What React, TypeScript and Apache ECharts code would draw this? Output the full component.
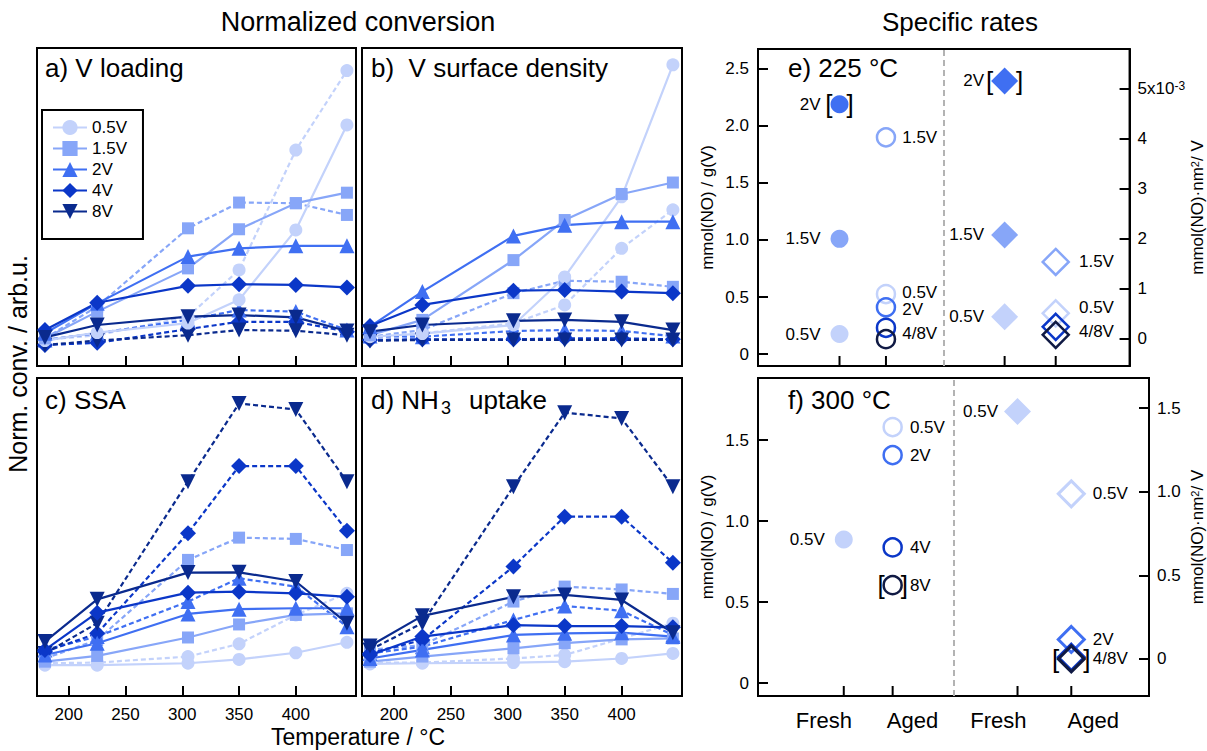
import React, { useEffect, useRef } from 'react';
import * as echarts from 'echarts';

// ---------- data ----------
const temperatures = [179, 225, 305, 350, 400, 445];
const tempTicks = [200, 250, 300, 350, 400];
const loadings = ['0.5V', '1.5V', '2V', '4V', '8V'];

// a) V loading (normalized, arb. units 0..100)
const vLoadingFresh = [
  [8.0, 10.5, 13.5, 20.8, 42.8, 75.8],
  [8.7, 17.1, 30.7, 43.0, 51.2, 54.5],
  [10.3, 19.7, 34.4, 37.0, 37.8, 37.8],
  [11.3, 19.9, 25.2, 25.7, 25.5, 24.7],
  [9.0, 12.9, 15.5, 16.0, 15.3, 11.0],
];
const vLoadingAged = [
  [8.2, 9.7, 15.5, 30.2, 67.9, 92.9],
  [8.7, 18.7, 43.3, 51.4, 51.2, 47.5],
  [8.2, 10.3, 14.5, 17.6, 17.1, 11.3],
  [6.6, 7.3, 11.6, 13.9, 13.9, 10.8],
  [6.6, 8.0, 9.7, 11.3, 11.1, 9.7],
];
// b) V surface density
const vDensityFresh = [
  [9.2, 10.2, 12.9, 28.0, 53.2, 94.7],
  [9.7, 14.5, 33.3, 45.9, 54.1, 57.7],
  [12.4, 23.4, 40.9, 44.3, 45.4, 45.4],
  [12.6, 19.2, 23.7, 23.9, 23.4, 22.9],
  [10.8, 12.9, 14.2, 14.5, 13.9, 11.3],
];
const vDensityAged = [
  [8.7, 10.3, 13.4, 19.2, 37.0, 49.1],
  [9.2, 11.3, 22.9, 26.8, 26.5, 24.9],
  [9.4, 9.2, 11.0, 11.3, 11.0, 9.4],
  [8.2, 8.4, 8.4, 8.7, 8.7, 8.4],
  [7.9, 8.2, 8.2, 8.2, 8.2, 8.2],
];
// c) SSA
const ssaFresh = [
  [9.7, 9.7, 10.3, 11.5, 13.6, 16.9],
  [10.8, 12.6, 18.4, 22.5, 25.5, 26.0],
  [12.9, 16.6, 25.8, 27.3, 27.6, 27.6],
  [14.5, 26.2, 32.5, 32.8, 32.3, 31.2],
  [17.1, 30.4, 38.8, 38.9, 36.0, 22.9],
];
const ssaAged = [
  [10.3, 10.5, 12.4, 16.4, 25.5, 32.3],
  [11.8, 17.6, 42.8, 49.8, 49.4, 45.9],
  [14.5, 18.7, 29.7, 37.0, 34.4, 21.8],
  [13.9, 19.7, 51.2, 72.3, 72.3, 52.0],
  [13.4, 22.9, 67.4, 92.0, 90.1, 67.4],
];
// d) NH3 uptake
const nh3Fresh = [
  [10.1, 10.3, 10.5, 10.8, 11.8, 13.4],
  [10.8, 12.4, 15.0, 16.6, 17.8, 18.1],
  [11.8, 14.5, 19.2, 19.7, 19.9, 18.7],
  [12.9, 18.7, 22.3, 22.0, 22.0, 21.6],
  [15.7, 25.2, 31.2, 31.8, 30.2, 19.9],
];
const nh3Aged = [
  [10.5, 10.5, 11.8, 12.9, 18.1, 22.9],
  [14.5, 16.0, 29.7, 34.4, 33.5, 32.1],
  [13.4, 15.5, 23.9, 28.3, 26.8, 19.2],
  [13.4, 17.6, 40.7, 56.4, 56.4, 41.9],
  [14.5, 22.9, 65.8, 89.1, 87.3, 65.8],
];

// Specific rates: group positions on the x axis (Fresh/Aged per g(V), Fresh/Aged per area)
const groupX = [1.755, 2.755, 5.31, 6.41];
const groupNames = ['Fresh', 'Aged', 'Fresh', 'Aged'];
const groupLabelX = [1.35, 3.16, 4.92, 6.86];

// e) 225 °C
const eFreshRateNames = ['0.5V', '1.5V', '2V'];
const eFreshRate = [0.175, 1.01, 2.19];
const eAgedRateNames = ['0.5V', '1.5V', '2V', '4V', '8V'];
const eAgedRate = [0.526, 1.9, 0.41, 0.23, 0.13];
const eFreshAreaNames = ['0.5V', '1.5V', '2V'];
const eFreshArea = [0.43, 2.07, 5.15];
const eAgedAreaNames = ['0.5V', '1.5V', '4V', '8V'];
const eAgedArea = [0.5, 1.53, 0.23, 0.07];
// f) 300 °C
const fFreshRateNames = ['0.5V'];
const fFreshRate = [0.886];
const fAgedRateNames = ['0.5V', '2V', '4V', '8V'];
const fAgedRate = [1.58, 1.407, 0.837, 0.604];
const fFreshAreaNames = ['0.5V'];
const fFreshArea = [1.48];
const fAgedAreaNames = ['0.5V', '2V', '4V', '8V'];
const fAgedArea = [0.987, 0.116, 0.01, 0.0];

const eLeftRange = [-0.105, 2.675];
const eRightRange = [-0.553, 5.79];
const fLeftRange = [-0.08, 1.883];
const fRightRange = [-0.222, 1.68];
const eLeftTicks = [0, 0.5, 1, 1.5, 2, 2.5];
const eRightTicks = [0, 1, 2, 3, 4, 5];
const fLeftTicks = [0, 0.5, 1, 1.5];
const fRightTicks = [0, 0.5, 1, 1.5];

// ---------- styles ----------
const FONT = "'Liberation Sans', Arial, Helvetica, sans-serif";
const lineColors = ['#c3d2fb', '#87a6f8', '#3f6ff2', '#0b37c8', '#0a2a8e'];
const symbolShapes = ['circle', 'rect', 'triangle', 'diamond', 'triangle'];
const symbolRotations = [0, 0, 0, 0, 180];
const symbolSizes = [13, 12, 15, 16, 15];
const rateColor: Record<string, string> = {
  '0.5V': '#c3d2fb',
  '1.5V': '#87a6f8',
  '2V': '#3f6ff2',
  '4V': '#0b37c8',
  '8V': '#101a44',
};

function buildOption() {
  const gridBoxes = [
    { left: 37, top: 48, width: 319, height: 318 },
    { left: 362, top: 48, width: 320, height: 318 },
    { left: 37, top: 378, width: 319, height: 318 },
    { left: 362, top: 378, width: 320, height: 318 },
    { left: 758, top: 49, width: 392, height: 317 },
    { left: 758, top: 378, width: 392, height: 318 },
  ];
  const grid = gridBoxes.map((g) => ({ ...g, show: true, borderColor: '#000', borderWidth: 2, backgroundColor: 'transparent' }));

  const tickStyle = { color: '#000', width: 2 };
  const boxLine = { show: true, onZero: false, lineStyle: { color: '#000', width: 2 } };
  const xAxis: any[] = [0, 1, 2, 3].map((i) => ({
    type: 'value', gridIndex: i, min: 172, max: 453, position: 'bottom',
    axisLine: boxLine, splitLine: { show: false },
    axisTick: { show: true, inside: true, length: 10, customValues: tempTicks, lineStyle: tickStyle },
    axisLabel: { show: i >= 2, customValues: tempTicks, fontSize: 17, color: '#000', margin: 10, fontFamily: FONT },
  }));
  [4, 5].forEach((i) => {
    xAxis.push({
      type: 'value', gridIndex: i, min: 0, max: 8, position: 'bottom',
      axisLine: boxLine, splitLine: { show: false },
      axisTick: { show: false },
      axisLabel: {
        show: i === 5, customValues: groupLabelX, fontSize: 22, color: '#000', margin: 13, fontFamily: FONT,
        formatter: (v: number) => {
          let best = 0;
          groupLabelX.forEach((x, k) => { if (Math.abs(x - v) < Math.abs(groupLabelX[best] - v)) best = k; });
          return groupNames[best];
        },
      },
    });
  });

  const numFmt = (v: number) => (Math.abs(v) < 1e-9 ? '0' : v.toFixed(1));
  const yAxis: any[] = [0, 1, 2, 3].map((i) => ({ type: 'value', gridIndex: i, min: 0, max: 100, show: false }));
  const yCommon = (ticks: number[]) => ({
    axisLine: boxLine, splitLine: { show: false },
    axisTick: { show: true, inside: true, length: 10, customValues: ticks, lineStyle: tickStyle },
  });
  const nameStyle = {
    fontSize: 17, color: '#000', fontFamily: FONT,
    rich: { sup: { fontSize: 11, verticalAlign: 'top', lineHeight: 10, fontFamily: FONT, color: '#000' } },
  };
  // e left
  yAxis.push({
    type: 'value', gridIndex: 4, position: 'left', min: eLeftRange[0], max: eLeftRange[1], ...yCommon(eLeftTicks),
    axisLabel: { customValues: eLeftTicks, formatter: numFmt, fontSize: 17, color: '#000', margin: 9, fontFamily: FONT },
    name: 'mmol(NO) / g(V)', nameLocation: 'middle', nameRotate: 90, nameGap: 42, nameTextStyle: nameStyle,
  });
  // e right
  yAxis.push({
    type: 'value', gridIndex: 4, position: 'right', min: eRightRange[0], max: eRightRange[1], ...yCommon(eRightTicks),
    axisLabel: {
      customValues: eRightTicks, fontSize: 17, color: '#000', margin: 8, fontFamily: FONT,
      formatter: (v: number) => (v === 5 ? '5x10{sup|-3}' : String(v)),
      rich: { sup: { fontSize: 12, verticalAlign: 'top', lineHeight: 6, color: '#000', fontFamily: FONT } },
    },
    name: 'mmol(NO)·nm{sup|2}/ V', nameLocation: 'middle', nameRotate: 90, nameGap: 40, nameTextStyle: nameStyle,
  });
  // f left
  yAxis.push({
    type: 'value', gridIndex: 5, position: 'left', min: fLeftRange[0], max: fLeftRange[1], ...yCommon(fLeftTicks),
    axisLabel: { customValues: fLeftTicks, formatter: numFmt, fontSize: 17, color: '#000', margin: 9, fontFamily: FONT },
    name: 'mmol(NO) / g(V)', nameLocation: 'middle', nameRotate: 90, nameGap: 42, nameTextStyle: nameStyle,
  });
  // f right
  yAxis.push({
    type: 'value', gridIndex: 5, position: 'right', min: fRightRange[0], max: fRightRange[1], ...yCommon(fRightTicks),
    axisLabel: { customValues: fRightTicks, formatter: numFmt, fontSize: 17, color: '#000', margin: 8, fontFamily: FONT },
    name: 'mmol(NO)·nm{sup|2}/ V', nameLocation: 'middle', nameRotate: 90, nameGap: 40, nameTextStyle: nameStyle,
  });

  const series: any[] = [];
  const panels = [
    [vLoadingFresh, vLoadingAged],
    [vDensityFresh, vDensityAged],
    [ssaFresh, ssaAged],
    [nh3Fresh, nh3Aged],
  ];
  panels.forEach(([fresh, aged], p) => {
    [aged, fresh].forEach((set, k) => {
      const isFresh = k === 1;
      set.forEach((vals, i) => {
        series.push({
          type: 'line',
          name: isFresh ? loadings[i] : loadings[i] + ' aged',
          xAxisIndex: p, yAxisIndex: p,
          data: vals.map((v, j) => [temperatures[j], v]),
          symbol: symbolShapes[i], symbolRotate: symbolRotations[i], symbolSize: symbolSizes[i],
          showAllSymbol: true, clip: false,
          lineStyle: { color: lineColors[i], width: 2.2, type: isFresh ? 'solid' : [5, 3] },
          itemStyle: { color: lineColors[i], opacity: 1 },
          emphasis: { disabled: true },
        });
      });
    });
  });

  // bottom tick marks of the specific-rate panels (drawn at the axis minimum, pointing up)
  [[4, 4, eLeftRange[0]], [5, 6, fLeftRange[0]]].forEach(([xi, yi, ymin]) => {
    series.push({
      type: 'scatter', xAxisIndex: xi, yAxisIndex: yi, symbol: 'rect', symbolSize: [2, 10], symbolOffset: [0, -5],
      clip: false, silent: true, emphasis: { disabled: true }, z: 4,
      itemStyle: { color: '#000', opacity: 1 },
      data: groupX.map((x) => [x, ymin]),
    });
  });

  // scatter helper for specific rates
  const scatter = (
    name: string, xi: number, yi: number, x: number, values: number[], names: string[],
    filled: boolean, symbol: string, size: number, pos: string, distance: number,
    texts: string[], offsets: number[], borderWidth = 2.5,
  ) => ({
    type: 'scatter', name, xAxisIndex: xi, yAxisIndex: yi, symbol, symbolSize: size,
    emphasis: { disabled: true }, z: 3,
    itemStyle: { opacity: 1 },
    data: values.map((v, i) => ({
      value: [x, v],
      itemStyle: filled
        ? { color: rateColor[names[i]], opacity: 1 }
        : { color: 'rgba(0,0,0,0)', borderColor: rateColor[names[i]], borderWidth, opacity: 1 },
      label: {
        show: !!texts[i], formatter: texts[i] || '', position: pos, distance,
        offset: [0, offsets[i] || 0], fontSize: 17, color: '#000', opacity: 1, fontFamily: FONT,
      },
    })),
  });

  series.push(scatter('eFreshRate', 4, 4, groupX[0], eFreshRate, eFreshRateNames, true, 'circle', 18, 'left', 10,
    ['0.5V', '1.5V', '2V'], [0, 0, 0]));
  series.push(scatter('eAgedRate', 4, 4, groupX[1], eAgedRate, eAgedRateNames, false, 'circle', 18, 'right', 6,
    ['0.5V', '1.5V', '2V', '', '4/8V'], [-2, 0, 2, 0, -6]));
  series.push(scatter('eFreshArea', 4, 5, groupX[2], eFreshArea, eFreshAreaNames, true, 'diamond', 27, 'left', 7,
    ['0.5V', '1.5V', '2V'], [0, 0, 0]));
  series.push(scatter('eAgedArea', 4, 5, groupX[3], eAgedArea, eAgedAreaNames, false, 'diamond', 26, 'right', 9,
    ['0.5V', '1.5V', '', '4/8V'], [-6, 0, 0, -3]));
  series.push(scatter('fFreshRate', 5, 6, groupX[0], fFreshRate, fFreshRateNames, true, 'circle', 18, 'left', 10,
    ['0.5V'], [0]));
  series.push(scatter('fAgedRate', 5, 6, groupX[1], fAgedRate, fAgedRateNames, false, 'circle', 18, 'right', 7,
    ['0.5V', '2V', '4V', '8V'], [0, 0, 0, 0]));
  series.push(scatter('fFreshArea', 5, 7, groupX[2], fFreshArea, fFreshAreaNames, true, 'diamond', 27, 'left', 6,
    ['0.5V'], [0]));
  series.push(scatter('fAgedArea', 5, 7, groupX[3], fAgedArea, fAgedAreaNames, false, 'diamond', 26, 'right', 7,
    ['0.5V', '2V', '', '4/8V'], [0, 0, 0, 0], 3));

  // brackets
  const bracket = (xi: number, yi: number, x: number, y: number, gap: number, size: number) => ({
    type: 'scatter', xAxisIndex: xi, yAxisIndex: yi, symbol: 'circle', symbolSize: size, z: 5,
    emphasis: { disabled: true }, silent: true,
    itemStyle: { color: 'rgba(0,0,0,0)', opacity: 1 },
    label: {
      show: true, position: 'inside', formatter: '{b|[}{g| }{b|]}', opacity: 1,
      rich: {
        b: { fontSize: 26, color: '#000', fontFamily: FONT },
        g: { width: gap, fontSize: 10 },
      },
    },
    data: [[x, y]],
  });
  series.push(bracket(4, 4, groupX[0], eFreshRate[2], 14, 18));
  series.push(bracket(4, 5, groupX[2], eFreshArea[2], 23, 27));
  series.push(bracket(5, 6, groupX[1], fAgedRate[3], 16, 18));
  series.push(bracket(5, 7, groupX[3], fAgedArea[3], 24, 27));

  // separators
  [[4, 4], [5, 6]].forEach(([xi, yi]) => {
    series.push({
      type: 'scatter', xAxisIndex: xi, yAxisIndex: yi, data: [], silent: true,
      markLine: {
        silent: true, symbol: ['none', 'none'], label: { show: false },
        lineStyle: { color: '#b3b3b3', type: [6, 4], width: 2, opacity: 1 },
        data: [{ xAxis: 4.01 }],
      },
    });
  });

  const txt = (text: string, x: number, y: number, fontSize: number, extra: any = {}) => ({
    type: 'text', x, y, silent: true,
    style: { text, fontSize, fill: '#000', fontFamily: FONT, align: extra.align || 'left', verticalAlign: 'middle' },
  });

  const graphic = [
    txt('Normalized conversion', 358, 22, 27, { align: 'center' }),
    txt('Specific rates', 960, 22, 26, { align: 'center' }),
    txt('a) V loading', 45, 68, 26),
    txt('b)  V surface density', 371, 68, 26),
    txt('c) SSA', 45, 400, 26),
    txt('d) NH', 371, 400, 26),
    txt('3', 441, 408, 18),
    txt('uptake', 469, 400, 26),
    txt('e) 225 °C', 788, 68, 26),
    txt('f) 300 °C', 788, 400, 26),
    txt('Temperature / °C', 358, 737, 23, { align: 'center' }),
    { type: 'text', x: 18, y: 364, rotation: Math.PI / 2, silent: true,
      style: { text: 'Norm. conv. / arb.u.', fontSize: 25, fill: '#000', fontFamily: FONT, align: 'center', verticalAlign: 'middle' } },
  ];

  return {
    animation: false,
    backgroundColor: '#fff',
    textStyle: { fontFamily: FONT },
    grid, xAxis, yAxis, series, graphic,
    legend: {
      data: loadings, left: 42, top: 110, orient: 'vertical',
      backgroundColor: '#fff', borderColor: '#000', borderWidth: 2, borderRadius: 0,
      padding: [9, 16, 19, 10], itemWidth: 34, itemHeight: 19, itemGap: 4,
      textStyle: { fontSize: 17, color: '#000', fontFamily: FONT },
      selectedMode: false,
    },
  };
}

export default function App() {
  const ref = useRef<HTMLDivElement>(null);
  useEffect(() => {
    if (!ref.current) return;
    const chart = echarts.init(ref.current, null, { renderer: 'svg' });
    chart.setOption(buildOption() as any);
    return () => chart.dispose();
  }, []);
  return (
    <div
      ref={ref}
      style={{ position: 'fixed', left: 0, top: 0, width: 1207, height: 751, background: '#fff' }}
    />
  );
}
